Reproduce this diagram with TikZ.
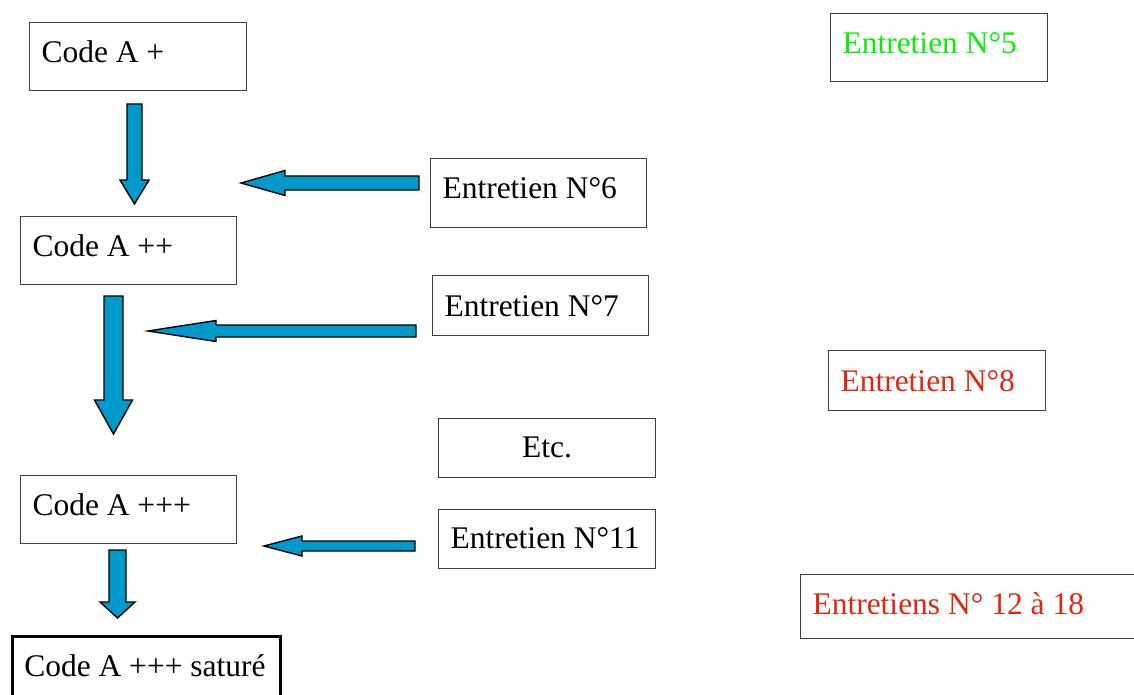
\documentclass[tikz,border=0pt]{standalone}
\usepackage{fontspec}
\setmainfont{Liberation Serif}
\usetikzlibrary{calc}
\definecolor{arrowblue}{RGB}{0,153,204}
\definecolor{okgreen}{RGB}{10,240,10}
\definecolor{alertred}{RGB}{224,40,16}
\newcommand{\lbox}[2]{\makebox[#1][l]{#2}}
\newcommand{\cbox}[2]{\makebox[#1][c]{#2}}
\newcommand{\downblock}[5]{%
  \draw[barrow] ($(#1)+(-#3,0)$) -- ($(#1)+(#3,0)$) -- ($(#2)+(#3,-#5)$) -- ($(#2)+(#4,-#5)$) -- (#2) -- ($(#2)+(-#4,-#5)$) -- ($(#2)+(-#3,-#5)$) -- cycle;}
\newcommand{\leftblock}[5]{%
  \draw[barrow] ($(#1)+(0,-#3)$) -- ($(#1)+(0,#3)$) -- ($(#2)+(#5,#3)$) -- ($(#2)+(#5,#4)$) -- (#2) -- ($(#2)+(#5,-#4)$) -- ($(#2)+(#5,-#3)$) -- cycle;}
\begin{document}
\begin{tikzpicture}[x=1pt,y=-1pt,
  box/.style={draw=black!75, line width=1pt, anchor=north west, inner xsep=12pt, inner ysep=0pt,
    text height=40pt, font=\fontsize{31.5}{38}\selectfont},
  barrow/.style={fill=arrowblue, draw=black, line width=1.4pt, line join=miter}]
\useasboundingbox (0,0) rectangle (1134,695);
\clip (0,0) rectangle (1134,695);
\fill[white] (0,0) rectangle (1134,695);
% left column
\node[box, text depth=28pt] (a1) at (29,22) {\lbox{193pt}{Code A +}};
\node[box, text depth=28pt] (a2) at (20,216) {\lbox{192pt}{Code A ++}};
\node[box, text depth=28pt] (a3) at (20,475) {\lbox{192pt}{Code A +++}};
\node[box, draw=black, line width=2.5pt, text depth=40pt] (a4) at (11,635) {\lbox{244pt}{Code A +++ saturé}};
% middle column
\node[box, text depth=29pt] (e6) at (430,158) {\lbox{192pt}{Entretien N°6}};
\node[box, text depth=19pt, text height=41pt] (e7) at (432,275) {\lbox{192pt}{Entretien N°7}};
\node[box, text depth=20pt, text height=39pt] (etc) at (438,418) {\cbox{193pt}{Etc.}};
\node[box, text depth=20pt, text height=39pt] (e11) at (438,509) {\lbox{193pt}{Entretien N°11}};
% right column
\node[box, text depth=28pt, text=okgreen] (e5) at (830,13) {\lbox{193pt}{Entretien N°5}};
\node[box, text depth=19pt, text height=41pt, text=alertred] (e8) at (828,350) {\lbox{193pt}{Entretien N°8}};
\node[box, text depth=24pt, text=alertred] (e12) at (800,574) {\lbox{330pt}{Entretiens N° 12 à 18}};
% arrows
\coordinate (d1s) at (134.5,104); \coordinate (d1t) at (134.5,204);
\coordinate (d2s) at (113.5,296); \coordinate (d2t) at (113.5,434);
\coordinate (d3s) at (117.5,550); \coordinate (d3t) at (117.5,618);
\coordinate (l1s) at (419,183); \coordinate (l1t) at (241,183);
\coordinate (l2s) at (416,331); \coordinate (l2t) at (148,331);
\coordinate (l3s) at (415,546); \coordinate (l3t) at (264,546);
\downblock{d1s}{d1t}{7.5}{14.5}{24}
\downblock{d2s}{d2t}{9.5}{19}{34}
\downblock{d3s}{d3t}{8.5}{17.5}{16}
\leftblock{l1s}{l1t}{7}{12.5}{44}
\leftblock{l2s}{l2t}{6}{10.5}{68}
\leftblock{l3s}{l3t}{5}{10}{38}
\end{tikzpicture}
\end{document}
